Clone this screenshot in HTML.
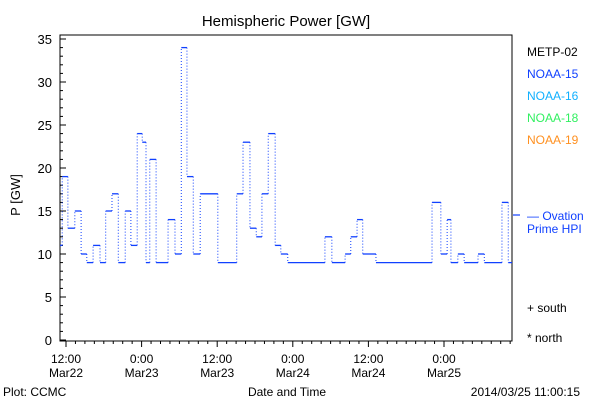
<!DOCTYPE html>
<html><head><meta charset="utf-8"><style>
body{margin:0;background:#fff;width:600px;height:400px;overflow:hidden}
svg{display:block;font-family:"Liberation Sans",sans-serif}
</style></head><body>
<svg id="c" width="600" height="400">
<rect x="0" y="0" width="600" height="400" fill="#fff"/>
<text x="286" y="26" font-size="15" text-anchor="middle">Hemispheric Power [GW]</text>
<text transform="translate(20,195) rotate(-90)" font-size="13" text-anchor="middle">P [GW]</text>
<text x="287" y="396" font-size="12" text-anchor="middle">Date and Time</text>
<text x="3" y="396" font-size="12">Plot: CCMC</text>
<text x="580" y="396" font-size="12" text-anchor="end">2014/03/25 11:00:15</text>
<g font-size="12">
<text x="527" y="56" fill="#000">METP-02</text>
<text x="527" y="78" fill="#1040ff">NOAA-15</text>
<text x="527" y="100" fill="#10b0ff">NOAA-16</text>
<text x="527" y="122" fill="#30f060">NOAA-18</text>
<text x="527" y="144" fill="#ff9020">NOAA-19</text>
<text x="527" y="220" fill="#1040ff">— Ovation</text>
<text x="527" y="233" fill="#1040ff">Prime HPI</text>
<line x1="513" y1="215" x2="520" y2="215" stroke="#1040ff" stroke-width="1.2"/>
<text x="527" y="312" fill="#000">+ south</text>
<text x="527" y="342" fill="#000">* north</text>
</g>
<g id="axes"></g>
<g id="series"></g>
</svg>
<script>
const starts=[-0.95,-0.6,0.3,1.4,2.4,3.3,4.3,5.4,6.3,7.3,8.3,9.4,10.3,11.3,12.1,12.7,13.3,14.3,16.2,17.3,18.3,19.2,20.2,21.3,24.1,27.1,28.1,29.2,30.2,31.1,32.1,33.2,34.1,35.2,41.1,42.2,44.3,45.2,46.2,47.1,49.2,58.1,59.5,60.5,61.1,62.2,63.2,65.4,66.4,69.2,70.2];
const values=[11,19,13,15,10,9,11,9,15,17,9,15,11,24,23,9,21,9,14,10,34,19,10,17,9,17,23,13,12,17,24,11,10,9,12,9,10,12,14,10,9,16,10,14,9,10,9,10,9,16,9];
const endHour=70.8;
const yTicks=[0,5,10,15,20,25,30,35];
const xTickHours=[0,12,24,36,48,60];
const xTickLabels=[["12:00","Mar22"],["0:00","Mar23"],["12:00","Mar23"],["0:00","Mar24"],["12:00","Mar24"],["0:00","Mar25"]];
const NS="http://www.w3.org/2000/svg";
const L=60,R=512,T=35,B=340;
function xs(h){return 66+h*6.3;}
function ys(v){return B-v*8.6;}
function mk(tag,at,parent){const e=document.createElementNS(NS,tag);for(const k in at)e.setAttribute(k,at[k]);parent.appendChild(e);return e;}
const ax=document.getElementById('axes');
const fr=mk('rect',{x:L,y:T,width:R-L,height:B-T+1,fill:'none',stroke:'#000','stroke-width':1},ax);


for(let v=0;v<=35;v++){
  const len=v%5===0?6:3;
  const t=mk('line',{x1:L,x2:L+len,y1:ys(v),y2:ys(v),stroke:'#000'},ax);
  
  
}
yTicks.forEach(v=>{
  const t=mk('text',{x:L-8,y:ys(v)+5,'font-size':13,'text-anchor':'end'},ax);t.textContent=v;
  
  
});
for(let h=-0;h<=endHour;h+=1.5){
  const major=Math.abs(h%12)<1e-6;
  const t=mk('line',{x1:xs(h),x2:xs(h),y1:B+1,y2:B+(major?7:4),stroke:'#000'},ax);
  
  
}
xTickHours.forEach((h,i)=>{
  const t=mk('text',{x:xs(h),y:363,'font-size':12,'text-anchor':'middle'},ax);t.textContent=xTickLabels[i][0];
  
  
  const d=mk('text',{x:xs(h),y:377,'font-size':12,'text-anchor':'middle'},ax);d.textContent=xTickLabels[i][1];
  
  
});
const sg=document.getElementById('series');
for(let i=0;i<values.length;i++){
  const x1=xs(starts[i]),x2=xs(i+1<starts.length?starts[i+1]:endHour);
  const h=mk('line',{x1:x1,x2:x2,y1:ys(values[i]),y2:ys(values[i]),stroke:'#1040ff','stroke-width':1.3},sg);
  
  
  if(i+1<values.length){
    const v=mk('line',{x1:x2,x2:x2,y1:ys(values[i]),y2:ys(values[i+1]),stroke:'#1040ff','stroke-width':1,'stroke-dasharray':'1 2'},sg);
    
    
  }
}
</script>
</body></html>
